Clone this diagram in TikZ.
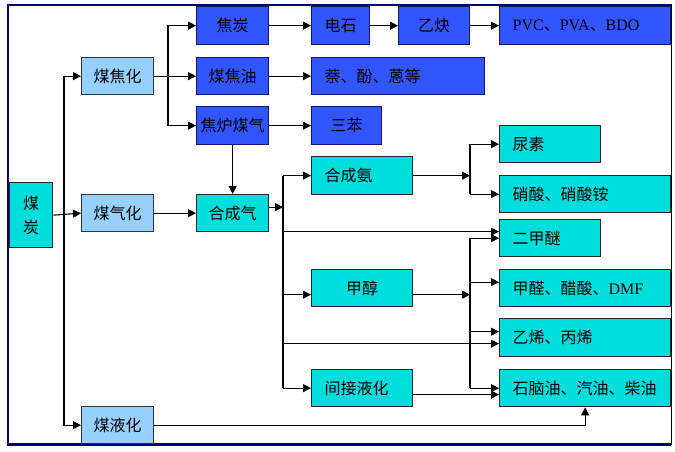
\documentclass[tikz,border=0pt]{standalone}
\usepackage{fontspec}
\newfontfamily\cjk{Noto Sans CJK SC}
\newfontfamily\lat{Liberation Serif}
\usetikzlibrary{arrows.meta}
\definecolor{dblue}{RGB}{51,85,255}
\definecolor{dborder}{RGB}{20,20,110}
\definecolor{cyanf}{RGB}{0,221,221}
\definecolor{lblue}{RGB}{150,208,255}
\definecolor{navy}{RGB}{0,0,120}
\begin{document}
\begin{tikzpicture}[x=1pt,y=-1pt,
 every node/.style={font=\cjk\fontsize{16}{19}\selectfont},
 bx/.style={draw, line width=1.3pt, anchor=north west, inner sep=0pt, align=center},
 bl/.style={bx, fill=dblue, draw=dborder},
 cy/.style={bx, fill=cyanf, draw=black!85},
 lb/.style={bx, fill=lblue, draw=black!80},
 L/.style={inner xsep=13pt, align=left},
 arr/.style={-{Triangle[length=8pt,width=8pt]}, line width=1.1pt},
 ln/.style={line width=1.1pt}]
\useasboundingbox (0,0) rectangle (675,451);
\fill[white] (0,0) rectangle (675,451);
% frame
\draw[navy, line width=2.5pt] (7,5) -- (671,5);
\draw[navy, line width=2pt] (8,4) -- (8,445);
\draw[navy, line width=3pt] (7,444) -- (671,444);
\draw[black, line width=1pt] (671,4) -- (671,445);
% boxes
\node[cy, minimum width=43pt, minimum height=65pt] (coal) at (9,182) {煤\\[5pt]炭};
\node[lb, minimum width=72pt, minimum height=37pt] (jiaohua) at (81,57) {煤焦化};
\node[lb, minimum width=72pt, minimum height=37pt] (qihua) at (81,194) {煤气化};
\node[lb, minimum width=72pt, minimum height=37pt] (yehua) at (81,406) {煤液化};
\node[bl, minimum width=72pt, minimum height=38pt] (jiaotan) at (196,6) {焦炭};
\node[bl, minimum width=72pt, minimum height=37pt] (jiaoyou) at (196,57) {煤焦油};
\node[bl, minimum width=72pt, minimum height=38pt] (lumeiqi) at (196,106) {焦炉煤气};
\node[bl, minimum width=58pt, minimum height=38pt] (dianshi) at (311,6) {电石};
\node[bl, minimum width=71pt, minimum height=38pt] (yique) at (398,6) {乙炔};
\node[bl, L, text width=145pt, minimum height=38pt] (pvc) at (499,6) {{\lat PVC}、{\lat PVA}、{\lat BDO}};
\node[bl, L, text width=147pt, minimum height=37pt] (nai) at (311,57) {萘、酚、蒽等};
\node[bl, minimum width=70pt, minimum height=38pt] (sanben) at (311,106) {三苯};
\node[cy, minimum width=72pt, minimum height=37pt] (hcq) at (196,194) {合成气};
\node[cy, L, text width=75pt, minimum height=38pt] (hca) at (311,156) {合成氨};
\node[cy, minimum width=101pt, minimum height=37pt] (jiachun) at (311,269) {甲醇};
\node[cy, L, text width=75pt, minimum height=37pt] (jianjie) at (311,369) {间接液化};
\node[cy, L, text width=75pt, minimum height=37pt] (niaosu) at (499,125) {尿素};
\node[cy, L, text width=145pt, minimum height=37pt] (xiaosuan) at (499,175) {硝酸、硝酸铵};
\node[cy, L, text width=75pt, minimum height=37pt] (ermi) at (499,219) {二甲醚};
\node[cy, L, text width=145pt, minimum height=37pt] (jiaquan) at (499,269) {甲醛、醋酸、{\lat DMF}};
\node[cy, L, text width=145pt, minimum height=38pt] (yixi) at (499,318) {乙烯、丙烯};
\node[cy, L, text width=145pt, minimum height=37pt] (naphtha) at (499,369) {石脑油、汽油、柴油};
% trunk coordinates
\coordinate (t1) at (64,0);
\coordinate (t2) at (168,0);
\coordinate (t3) at (283,0);
\coordinate (t4) at (470,0);
% connectors
\draw[arr] (coal.east) -- (qihua.west);
\draw[arr] (t1 |- coal.east) |- (jiaohua.west);
\draw[arr] (t1 |- coal.east) |- (yehua.west);
\draw[arr] (jiaohua.east) -- (jiaoyou.west);
\draw[arr] (t2 |- jiaohua.east) |- (jiaotan.west);
\draw[arr] (t2 |- jiaohua.east) |- (lumeiqi.west);
\draw[arr] (jiaotan) -- (dianshi);
\draw[arr] (dianshi) -- (yique);
\draw[arr] (yique) -- (pvc);
\draw[arr] (jiaoyou) -- (nai);
\draw[arr] (lumeiqi) -- (sanben);
\draw[arr] (lumeiqi.south) -- (hcq.north);
\draw[arr] (qihua) -- (hcq);
\draw[arr] ([yshift=6pt]hcq.east) -- ([yshift=6pt]hcq.east -| t3);
\draw[ln] (t3 |- hca.west) -- (t3 |- jianjie.west);
\draw[arr] (t3 |- hca.west) -- (hca.west);
\draw[arr] ([yshift=-6.5pt]jiachun.west -| t3) -- ([yshift=-6.5pt]jiachun.west);
\draw[arr] (t3 |- jianjie.west) -- (jianjie.west);
\draw[arr] ([yshift=6.5pt]ermi.west -| t3) -- ([yshift=6.5pt]ermi.west);
\draw[arr] ([yshift=-6pt]yixi.west -| t3) -- ([yshift=-6pt]yixi.west);
% ammonia
\draw[arr] (hca.east) -- (hca.east -| t4);
\draw[ln] (t4 |- niaosu.west) -- (t4 |- xiaosuan.west);
\draw[arr] (t4 |- niaosu.west) -- (niaosu.west);
\draw[arr] (t4 |- xiaosuan.west) -- (xiaosuan.west);
% methanol
\draw[arr] ([yshift=-6.5pt]jiachun.east) -- ([yshift=-6.5pt]jiachun.east -| t4);
\draw[ln] (t4 |- ermi.west) -- (t4 |- naphtha.west);
\draw[arr] (t4 |- ermi.west) -- (ermi.west);
\draw[arr] ([yshift=6pt]jiaquan.west -| t4) -- ([yshift=6pt]jiaquan.west);
\draw[arr] ([yshift=6pt]yixi.west -| t4) -- ([yshift=6pt]yixi.west);
\draw[arr] (t4 |- naphtha.west) -- (naphtha.west);
% indirect liquefaction and direct
\draw[arr] ([yshift=-6.5pt]jianjie.east) -- ([yshift=-6.5pt]jianjie.east -| naphtha.west);
\draw[arr] (yehua.east) -| (naphtha.south);
\end{tikzpicture}
\end{document}
